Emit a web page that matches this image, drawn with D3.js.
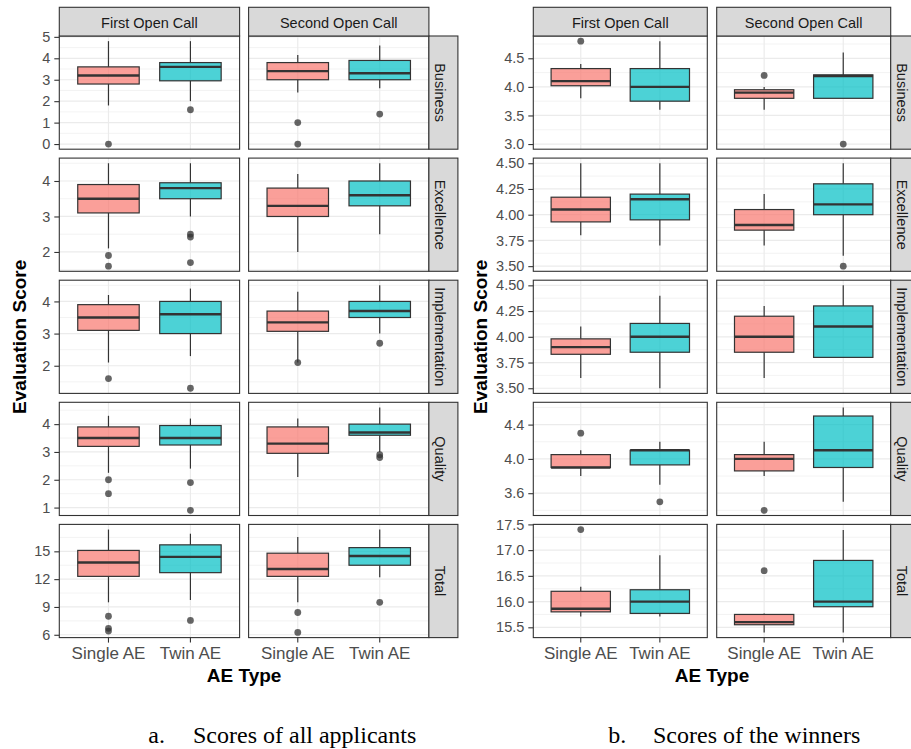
<!DOCTYPE html>
<html>
<head>
<meta charset="utf-8">
<script src="https://cdnjs.cloudflare.com/ajax/libs/d3/7.8.5/d3.min.js"></script>
<style>
  body { margin: 0; background: #fff; }
  svg { display: block; font-family: "Liberation Sans", Arial, sans-serif; }
</style>
</head>
<body>
<svg id="chart" width="911" height="749"></svg>
<script>
var calls = ["First Open Call", "Second Open Call"]
var aeTypes = ["Single AE", "Twin AE"]
var criteria = ["Business", "Excellence", "Implementation", "Quality", "Total"]

// box stats: [lower whisker, q1, median, q3, upper whisker]
// order: first/single, first/twin, second/single, second/twin

// a. all applicants
var allBusiness = [[1.8, 2.8, 3.2, 3.6, 4.8], [2.0, 2.95, 3.6, 3.8, 4.8], [2.4, 3.0, 3.4, 3.8, 4.15], [2.6, 3.0, 3.3, 3.9, 4.6]]
var allBusinessOut = [[0], [1.6], [1.0, 0], [1.4]]
var allExcellence = [[2.1, 3.1, 3.5, 3.9, 4.5], [3.0, 3.5, 3.8, 3.95, 4.5], [2.0, 3.0, 3.3, 3.8, 4.2], [2.5, 3.3, 3.6, 4.0, 4.5]]
var allExcellenceOut = [[1.9, 1.6], [2.5, 2.42, 1.7], [], []]
var allImplementation = [[2.1, 3.1, 3.5, 3.9, 4.2], [2.3, 3.0, 3.6, 4.0, 4.4], [2.1, 3.07, 3.35, 3.7, 4.3], [3.0, 3.5, 3.7, 4.0, 4.5]]
var allImplementationOut = [[1.6], [1.3], [2.1], [2.7]]
var allQuality = [[2.25, 3.2, 3.5, 3.9, 4.3], [2.4, 3.25, 3.5, 3.95, 4.2], [2.1, 2.95, 3.3, 3.9, 4.2], [3.0, 3.6, 3.7, 4.0, 4.6]]
var allQualityOut = [[2.0, 1.5], [1.9, 0.9], [], [2.9, 2.8]]
var allTotal = [[9.5, 12.3, 13.8, 15.1, 17.35], [9.75, 12.7, 14.4, 15.7, 16.9], [9.5, 12.3, 13.1, 14.8, 16.55], [12.2, 13.5, 14.5, 15.4, 17.35]]
var allTotalOut = [[8.0, 6.7, 6.4], [7.55], [8.4, 6.25], [9.5]]

// b. winners
var winBusiness = [[3.8, 4.02, 4.1, 4.32, 4.4], [3.6, 3.75, 4.0, 4.32, 4.8], [3.6, 3.8, 3.9, 3.95, 4.0], [3.8, 3.8, 4.19, 4.21, 4.6]]
var winBusinessOut = [[4.8], [], [4.2], [3.0]]
var winExcellence = [[3.8, 3.93, 4.05, 4.17, 4.5], [3.7, 3.95, 4.15, 4.2, 4.5], [3.7, 3.85, 3.9, 4.05, 4.2], [3.6, 4.0, 4.1, 4.3, 4.5]]
var winExcellenceOut = [[], [], [], [3.5]]
var winImplementation = [[3.6, 3.83, 3.9, 3.98, 4.1], [3.5, 3.85, 4.0, 4.13, 4.4], [3.6, 3.85, 4.0, 4.2, 4.3], [3.8, 3.8, 4.1, 4.3, 4.5]]
var winImplementationOut = [[], [], [], []]
var winQuality = [[3.8, 3.9, 3.9, 4.05, 4.1], [3.7, 3.93, 4.1, 4.1, 4.2], [3.8, 3.86, 4.0, 4.05, 4.2], [3.5, 3.9, 4.1, 4.5, 4.6]]
var winQualityOut = [[4.3], [3.5], [3.4], []]
var winTotal = [[15.71, 15.8, 15.86, 16.2, 16.29], [15.71, 15.77, 16.0, 16.23, 16.9], [15.4, 15.55, 15.6, 15.75, 15.77], [15.4, 15.9, 16.0, 16.8, 17.39]]
var winTotalOut = [[17.4], [], [16.6], []]

var allTicks = [[0, 1, 2, 3, 4, 5], [2, 3, 4], [2, 3, 4], [1, 2, 3, 4], [6, 9, 12, 15]]
var winTicks = [[3.0, 3.5, 4.0, 4.5], [3.5, 3.75, 4.0, 4.25, 4.5], [3.5, 3.75, 4.0, 4.25, 4.5], [3.6, 4.0, 4.4], [15.5, 16.0, 16.5, 17.0, 17.5]]
var winTickFormats = [".1f", ".2f", ".2f", ".1f", ".1f"]

var fills = ["#F8766D", "#00BFC4"]

var svg = d3.select("#chart")

var rowTop = 36, rowH = 113.2, rowStep = 122.1
var stripW = 29, stripTop = 7.3

var charts = [{
  left: 59.3, width: 180.3, gap: 9,
  stats: [allBusiness, allExcellence, allImplementation, allQuality, allTotal],
  outs: [allBusinessOut, allExcellenceOut, allImplementationOut, allQualityOut, allTotalOut],
  ticks: allTicks,
  formats: ["d", "d", "d", "d", "d"],
  yTitleX: 26,
  label: "a.", caption: "Scores of all applicants", labelX: 148.3, captionX: 193
}, {
  left: 533.3, width: 174, gap: 9.4,
  stats: [winBusiness, winExcellence, winImplementation, winQuality, winTotal],
  outs: [winBusinessOut, winExcellenceOut, winImplementationOut, winQualityOut, winTotalOut],
  ticks: winTicks,
  formats: winTickFormats,
  yTitleX: 487,
  label: "b.", caption: "Scores of the winners", labelX: 608.3, captionX: 653
}]

charts.forEach(drawChart)

function drawChart(cfg) {
  var g = svg.append("g")
  var colX = [cfg.left, cfg.left + cfg.width + cfg.gap]
  var x = d3.scaleBand().domain(aeTypes).range([0, cfg.width]).paddingInner(0).paddingOuter(0.1)
  var boxW = x.bandwidth() * 0.75

  criteria.forEach(function(crit, r) {
    var top = rowTop + r * rowStep
    var stats = cfg.stats[r], outs = cfg.outs[r]
    var ext = d3.extent(d3.merge(stats.concat(outs)))
    var pad = (ext[1] - ext[0]) * 0.05
    var y = d3.scaleLinear().domain([ext[0] - pad, ext[1] + pad]).range([top + rowH, top])

    var ticks = cfg.ticks[r]
    var step = ticks[1] - ticks[0]
    var minor = [ticks[0] - step / 2].concat(ticks.map(function(t) { return t + step / 2 }))
      .filter(function(v) { return v >= y.domain()[0] && v <= y.domain()[1] })

    calls.forEach(function(call, c) {
      var p = g.append("g").attr("transform", "translate(" + colX[c] + ",0)")

      p.selectAll(".minor").data(minor).enter().append("line")
        .attr("x1", 0).attr("x2", cfg.width)
        .attr("y1", function(d) { return y(d) }).attr("y2", function(d) { return y(d) })
        .attr("stroke", "#EBEBEB").attr("stroke-width", 0.6)

      p.selectAll(".major").data(ticks).enter().append("line")
        .attr("x1", 0).attr("x2", cfg.width)
        .attr("y1", function(d) { return y(d) }).attr("y2", function(d) { return y(d) })
        .attr("stroke", "#EBEBEB").attr("stroke-width", 1.2)

      p.selectAll(".vmajor").data(aeTypes).enter().append("line")
        .attr("x1", function(d) { return x(d) + x.bandwidth() / 2 })
        .attr("x2", function(d) { return x(d) + x.bandwidth() / 2 })
        .attr("y1", top).attr("y2", top + rowH)
        .attr("stroke", "#EBEBEB").attr("stroke-width", 1.2)

      aeTypes.forEach(function(type, t) {
        var s = stats[c * 2 + t]
        var cx = x(type) + x.bandwidth() / 2
        var box = p.append("g")

        box.append("line")
          .attr("x1", cx).attr("x2", cx)
          .attr("y1", y(s[0])).attr("y2", y(s[1]))
          .attr("stroke", "#333").attr("stroke-width", 1.2)
        box.append("line")
          .attr("x1", cx).attr("x2", cx)
          .attr("y1", y(s[3])).attr("y2", y(s[4]))
          .attr("stroke", "#333").attr("stroke-width", 1.2)
        box.append("rect")
          .attr("x", cx - boxW / 2).attr("width", boxW)
          .attr("y", y(s[3])).attr("height", Math.max(0.5, y(s[1]) - y(s[3])))
          .attr("fill", fills[t]).attr("fill-opacity", 0.7)
          .attr("stroke", "#333").attr("stroke-width", 1.2)
        box.append("line")
          .attr("x1", cx - boxW / 2).attr("x2", cx + boxW / 2)
          .attr("y1", y(s[2])).attr("y2", y(s[2]))
          .attr("stroke", "#333").attr("stroke-width", 2.4)

        box.selectAll("circle").data(outs[c * 2 + t]).enter().append("circle")
          .attr("cx", cx).attr("cy", function(d) { return y(d) })
          .attr("r", 3.4)
          .attr("fill", "#333").attr("fill-opacity", 0.75)
      })

      p.append("rect")
        .attr("x", 0).attr("y", top).attr("width", cfg.width).attr("height", rowH)
        .attr("fill", "none").attr("stroke", "#333").attr("stroke-width", 1.1)
    })

    // y axis on the first column
    var ax = g.append("g")
      .attr("transform", "translate(" + colX[0] + ",0)")
      .call(d3.axisLeft(y).tickValues(ticks).tickSize(5).tickPadding(4).tickFormat(d3.format(cfg.formats[r])))
    styleAxis(ax, 14.5)

    // right strip
    var sx = colX[1] + cfg.width
    g.append("rect")
      .attr("x", sx).attr("y", top).attr("width", stripW).attr("height", rowH)
      .attr("fill", "#D9D9D9").attr("stroke", "#333").attr("stroke-width", 1.1)
    g.append("text")
      .attr("transform", "translate(" + (sx + 6.5) + "," + (top + rowH / 2) + ") rotate(90)")
      .attr("text-anchor", "middle")
      .attr("font-size", 14.5).attr("fill", "#1A1A1A")
      .text(crit)
  })

  var bottom = rowTop + 4 * rowStep + rowH
  calls.forEach(function(call, c) {
    g.append("rect")
      .attr("x", colX[c]).attr("y", stripTop).attr("width", cfg.width).attr("height", rowTop - stripTop)
      .attr("fill", "#D9D9D9").attr("stroke", "#333").attr("stroke-width", 1.1)
    g.append("text")
      .attr("x", colX[c] + cfg.width / 2).attr("y", stripTop + (rowTop - stripTop) / 2 + 6.3)
      .attr("text-anchor", "middle")
      .attr("font-size", 14.5).attr("fill", "#1A1A1A")
      .text(call)

    var xa = g.append("g")
      .attr("transform", "translate(" + colX[c] + "," + bottom + ")")
      .call(d3.axisBottom(x).tickSize(5).tickPadding(4.5))
    styleAxis(xa, 17)
  })

  var mid = (colX[0] + colX[1] + cfg.width) / 2
  g.append("text")
    .attr("x", mid).attr("y", 681.7)
    .attr("text-anchor", "middle")
    .attr("font-size", 19).attr("font-weight", "bold").attr("fill", "#000")
    .text("AE Type")

  g.append("text")
    .attr("transform", "translate(" + cfg.yTitleX + "," + ((rowTop + bottom) / 2) + ") rotate(-90)")
    .attr("text-anchor", "middle")
    .attr("font-size", 19).attr("font-weight", "bold").attr("fill", "#000")
    .text("Evaluation Score")

  g.append("text")
    .attr("x", cfg.labelX).attr("y", 743)
    .attr("font-family", "'Liberation Serif', 'Times New Roman', serif")
    .attr("font-size", 24).attr("fill", "#000")
    .text(cfg.label)
  g.append("text")
    .attr("x", cfg.captionX).attr("y", 743)
    .attr("font-family", "'Liberation Serif', 'Times New Roman', serif")
    .attr("font-size", 24).attr("fill", "#000")
    .text(cfg.caption)
}

function styleAxis(ax, size) {
  ax.select(".domain").remove()
  ax.selectAll(".tick line").attr("stroke", "#333").attr("stroke-width", 1.1)
  ax.selectAll(".tick text")
    .attr("fill", "#4D4D4D")
    .attr("font-size", size)
    .attr("font-family", "'Liberation Sans', Arial, sans-serif")
}
</script>
</body>
</html>
